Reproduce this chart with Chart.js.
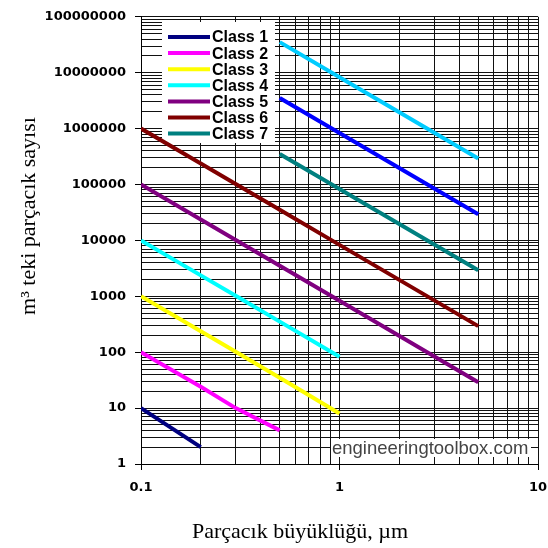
<!DOCTYPE html>
<html>
<head>
<meta charset="utf-8">
<script src="https://cdn.jsdelivr.net/npm/chart.js@4.4.1/dist/chart.umd.min.js"></script>
<style>
  html, body { margin: 0; padding: 0; background: #fff; }
</style>
</head>
<body>
<canvas id="chart" width="548" height="548"></canvas>
<script>
// --------- Data ---------
const sizes = [0.1, 0.2, 0.3, 0.5, 1, 5];   // particle size, µm
const class1 = [10, 2, null, null, null, null];
const class2 = [100, 24, 10, 4, null, null];
const class3 = [1000, 237, 102, 35, 8, null];
const class4 = [10000, 2370, 1020, 352, 83, null];
const class5 = [100000, 23700, 10200, 3520, 832, 29];
const class6 = [1000000, 237000, 102000, 35200, 8320, 293];
const class7 = [null, null, null, 352000, 83200, 2930];
const class8 = [null, null, null, 3520000, 832000, 29300];
const class9 = [null, null, null, 35200000, 8320000, 293000];

const seriesLabels = ["Class 1", "Class 2", "Class 3", "Class 4", "Class 5", "Class 6", "Class 7", "Class 8", "Class 9"];
const seriesColors = ["#000080", "#ff00ff", "#ffff00", "#00ffff", "#800080", "#800000", "#008080", "#0000ff", "#00ccff"];
const legendCount = 7; // only classes 1-7 appear in the legend box

const xMajor = [0.1, 1, 10];
const yMajor = [1, 10, 100, 1000, 10000, 100000, 1000000, 10000000, 100000000];
const minorSteps = [1, 2, 3, 4, 5, 6, 7, 8, 9];

const xTitle = "Parçacık büyüklüğü, µm";
const yTitle = "m³ teki parçacık sayısı";
const watermark = "engineeringtoolbox.com";

// --------- Helpers ---------
function gridValues(majors) {
  const out = [];
  majors.forEach((m, i) => {
    if (i === majors.length - 1) { out.push(m); return; }
    minorSteps.forEach((s) => out.push(m * s));
  });
  return out;
}

function isMajor(v) {
  const l = Math.log10(v);
  return Math.abs(l - Math.round(l)) < 1e-9;
}

const allSeries = [class1, class2, class3, class4, class5, class6, class7, class8, class9];

const datasets = allSeries.map((vals, i) => ({
  label: seriesLabels[i],
  data: sizes.map((x, j) => ({ x, y: vals[j] })).filter((p) => p.y !== null),
  borderColor: seriesColors[i],
  backgroundColor: seriesColors[i],
  borderWidth: 4,
  pointRadius: 0,
  tension: 0,
  fill: false
}));

// --------- Legend box, watermark, titles ---------
const extras = {
  id: "extras",
  beforeDatasetsDraw(chart) {
    const c = chart.ctx;
    c.save();
    c.fillStyle = "#fff";
    c.fillRect(162, 22, 113, 121);
    c.font = "bold 16px 'Liberation Sans', Arial, sans-serif";
    c.textBaseline = "middle";
    c.textAlign = "left";
    for (let i = 0; i < legendCount; i++) {
      const y = 37 + i * 16.1;
      c.strokeStyle = seriesColors[i];
      c.lineWidth = 4;
      c.beginPath();
      c.moveTo(168, y);
      c.lineTo(210, y);
      c.stroke();
      c.fillStyle = "#000";
      c.fillText(seriesLabels[i], 212, y + 1);
    }
    c.restore();
  },
  afterDraw(chart) {
    const c = chart.ctx;
    c.save();
    // watermark
    c.fillStyle = "#fff";
    c.fillRect(331, 439, 200, 18);
    c.fillStyle = "#444";
    c.font = "18.5px 'Liberation Sans', Arial, sans-serif";
    c.textBaseline = "middle";
    c.textAlign = "left";
    c.fillText(watermark, 332, 449);
    // axis titles
    c.fillStyle = "#000";
    c.font = "22px 'Liberation Serif', 'Times New Roman', serif";
    c.textBaseline = "alphabetic";
    c.textAlign = "center";
    c.fillText(xTitle, 300, 538);
    c.translate(35, 216);
    c.rotate(-Math.PI / 2);
    c.fillText(yTitle, 0, 0);
    c.restore();
  }
};

// --------- Chart ---------
const tickFont = { family: "'DejaVu Sans', Verdana, sans-serif", size: 13, weight: "bold" };

new Chart(document.getElementById("chart"), {
  type: "line",
  data: { datasets },
  plugins: [extras],
  options: {
    responsive: false,
    animation: false,
    layout: { padding: { top: 15, right: 0, left: 0, bottom: 0 } },
    plugins: {
      legend: { display: false },
      tooltip: { enabled: false }
    },
    scales: {
      x: {
        type: "logarithmic",
        min: 0.1,
        max: 10,
        afterBuildTicks: (axis) => { axis.ticks = gridValues(xMajor).map((value) => ({ value })); },
        afterFit: (axis) => {
          axis.height = 84;
          axis.paddingLeft = 0;
          axis.paddingRight = 10;
        },
        border: { display: true, color: "#000", width: 1 },
        grid: {
          color: "#111",
          lineWidth: 1,
          tickLength: 6,
          tickColor: (ctx) => (ctx.tick && isMajor(ctx.tick.value) ? "#000" : "rgba(0,0,0,0)")
        },
        ticks: {
          autoSkip: false,
          maxRotation: 0,
          minRotation: 0,
          padding: 10,
          color: "#000",
          font: tickFont,
          callback: (v) => (isMajor(v) ? String(v) : "")
        }
      },
      y: {
        type: "logarithmic",
        min: 1,
        max: 100000000,
        afterBuildTicks: (axis) => { axis.ticks = gridValues(yMajor).map((value) => ({ value })); },
        afterFit: (axis) => { axis.width = 141; },
        border: { display: true, color: "#000", width: 1 },
        grid: {
          color: "#111",
          lineWidth: 1,
          tickLength: 6,
          tickColor: (ctx) => (ctx.tick && isMajor(ctx.tick.value) ? "#000" : "rgba(0,0,0,0)")
        },
        ticks: {
          autoSkip: false,
          padding: 9,
          color: "#000",
          font: tickFont,
          callback: (v) => (isMajor(v) ? String(v) : "")
        }
      }
    }
  }
});
</script>
</body>
</html>
